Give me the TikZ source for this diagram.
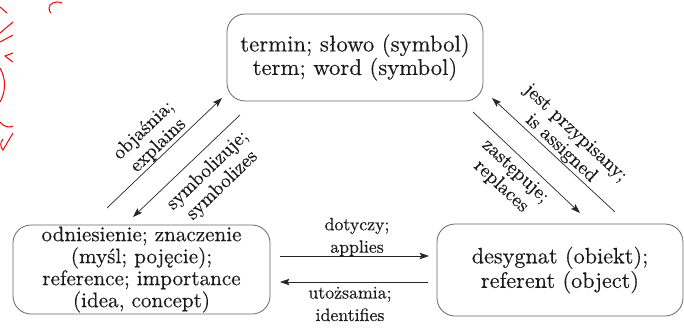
\documentclass[tikz,border=0pt]{standalone}
\usepackage{fontspec}
\setmainfont{lmroman10-regular.otf}[FakeBold=0.3]
\usetikzlibrary{arrows.meta}
\begin{document}
\begin{tikzpicture}[x=1pt,y=-1pt,
  box/.style={draw=black!60, line width=0.8pt, rounded corners=18pt, inner sep=0pt, align=center, text=black!90},
  arr/.style={draw=black!85, line width=0.7pt, -{Stealth[length=9.5pt,width=6.5pt,inset=2pt]}},
  lab/.style={align=center, text=black!90, inner sep=0pt, font=\fontsize{19.5}{21}\selectfont},
  hlab/.style={align=center, text=black!90, inner sep=0pt, font=\fontsize{17.8}{22.5}\selectfont},
  stamp/.style={draw=red, line width=1pt}]
\useasboundingbox (0,0) rectangle (684,329);
% boxes
\node[box, minimum width=256pt, minimum height=87pt, font=\fontsize{22.7}{23.5}\selectfont] (term) at (355,57.5) {termin; słowo (symbol)\\term; word (symbol)};
\node[box, minimum width=257pt, minimum height=89pt, font=\fontsize{21.1}{22}\selectfont] (ref) at (141.5,269.5) {odniesienie; znaczenie\\(myśl; pojęcie);\\reference; importance\\(idea, concept)};
\node[box, minimum width=246pt, minimum height=92pt, font=\fontsize{22.2}{24.5}\selectfont] (obj) at (560,270) {desygnat (obiekt);\\referent (object)};
% arrow ends
\coordinate (a1s) at (107,208); \coordinate (a1e) at (222,98);
\coordinate (a2s) at (240,115); \coordinate (a2e) at (133,217);
\coordinate (a3s) at (615,212); \coordinate (a3e) at (492,98);
\coordinate (a4s) at (473,112); \coordinate (a4e) at (580,213);
\coordinate (a5s) at (280,256); \coordinate (a5e) at (429,256);
\coordinate (a6s) at (428,282); \coordinate (a6e) at (280,282);
\draw[arr] (a1s) -- (a1e);
\draw[arr] (a2s) -- (a2e);
\draw[arr] (a3s) -- (a3e);
\draw[arr] (a4s) -- (a4e);
\draw[arr] (a5s) -- (a5e);
\draw[arr] (a6s) -- (a6e);
% labels
\node[lab, rotate=44] (l1) at (151,138) {objaśnia;\\explains};
\node[lab, rotate=44] (l2) at (215,178) {symbolizuje;\\symbolizes};
\node[lab, rotate=-43] (l3) at (568,141) {jest przypisany;\\is assigned};
\node[lab, rotate=-43] (l4) at (508,179) {zastępuje;\\replaces};
\node[hlab] (l5) at (357,237) {dotyczy;\\applies};
\node[hlab] (l6) at (350,304) {utożsamia;\\identifies};
% red stamp remnants
\draw[stamp] (0,7) -- (7,13);
\draw[stamp] (0,33) -- (13,22);
\draw[stamp] (0,42) -- (13,35);
\draw[stamp] (13,53) -- (5,56) -- (13,62);
\draw[stamp] (0,68) .. controls (6,78) and (6,92) .. (0,102);
\draw[stamp] (0,122) .. controls (4,127) and (9,128) .. (13,126);
\draw[stamp] (13,133) -- (3,150) .. controls (0,147) and (0,142) .. (3,139);
\draw[stamp] (62,3) .. controls (55,0) and (49,4) .. (49,8) .. controls (49,11) and (50,12) .. (51,13);
\end{tikzpicture}
\end{document}
